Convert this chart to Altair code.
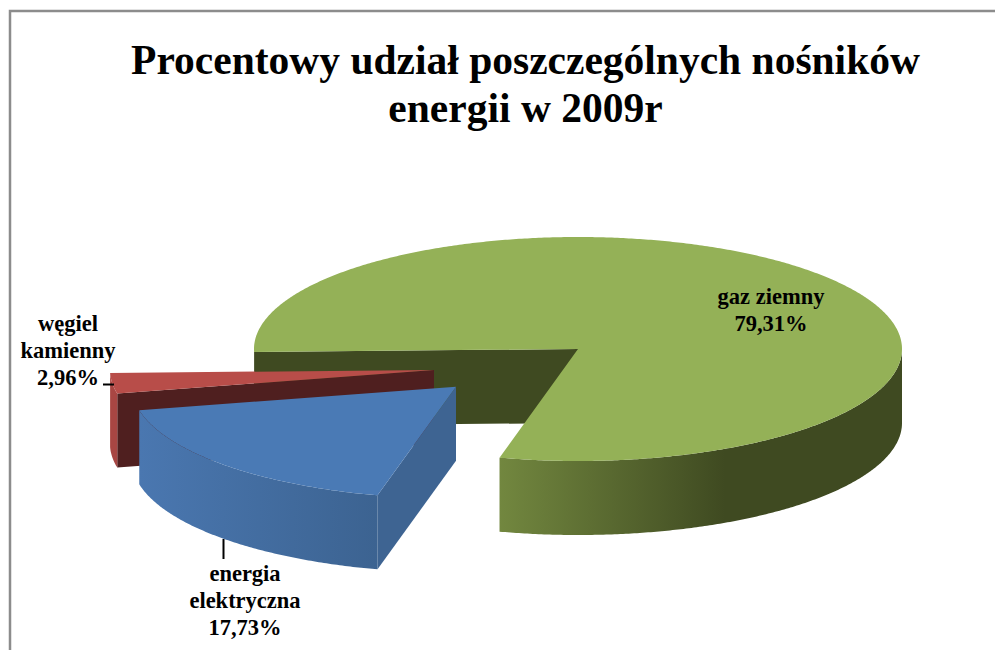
import math
import altair as alt
import pandas as pd

# ---- chart values
categories = ["gaz ziemny", "energia elektryczna", "węgiel kamienny"]
shares = [79.31, 17.73, 2.96]
label_texts = ["gaz ziemny\n79,31%", "energia\nelektryczna\n17,73%", "węgiel\nkamienny\n2,96%"]
title_lines = ["Procentowy udział poszczególnych nośników", "energii w 2009r"]

# ---- drawing geometry (the scales below are expressed in page pixels)
W, H = 987, 642
X0, Y0 = 8, 8
RX, RY, THICK = 324, 112, 74
START = 268.5
CENTRES = {"gaz ziemny": (578, 349), "energia elektryczna": (456, 386.7), "węgiel kamienny": (434, 370)}


def rim(c, a, drop=0):
    r = math.radians(a)
    return (c[0] + RX * math.sin(r), c[1] - RY * math.cos(r) + drop)


def arc(c, a0, a1, drop=0):
    n = max(2, int(abs(a1 - a0) * 2))
    return [rim(c, a0 + (a1 - a0) * i / n, drop) for i in range(n + 1)]


def top(c, a0, a1):
    return [c] + arc(c, a0, a1)


def outer(c, a0, a1):
    return arc(c, a0, a1) + arc(c, a1, a0, THICK)


def inner(c, a):
    p = rim(c, a)
    return [c, p, (p[0], p[1] + THICK), (c[0], c[1] + THICK)]


# slice angles follow from the shares, clockwise from START
green0, green1 = START, START + shares[0] * 3.6
blue0, blue1 = green1 - 360, green1 - 360 + shares[1] * 3.6
red0, red1 = blue1, blue1 + shares[2] * 3.6
G, B, R = (CENTRES[k] for k in categories)


def grad(c0, c1, mid=None):
    stops = [alt.GradientStop(offset=0, color=c0)]
    if mid is not None:
        stops.append(alt.GradientStop(offset=mid, color=c1))
    stops.append(alt.GradientStop(offset=1, color=c1))
    return alt.Gradient(gradient="linear", x1=0, x2=1, y1=0, y2=0, stops=stops)


pieces = [
    (inner(G, green0), "#3f4a21"),
    (outer(G, 450, green1), grad("#72873f", "#3f4a21", 0.56)),
    (top(G, green0, green1), "#94b157"),
    (inner(R, red0), "#4f1f1f"),
    (outer(R, red0, red1), "#a84643"),
    (top(R, red0, red1), "#b84d49"),
    (inner(B, blue0), "#3e6492"),
    (outer(B, blue0, blue1), grad("#4a77b0", "#3c6391")),
    (top(B, blue0, blue1), "#4a7ab5"),
]

xe = alt.X("x:Q", scale=alt.Scale(domain=[X0, X0 + W], nice=False, zero=False), axis=None)
ye = alt.Y("y:Q", scale=alt.Scale(domain=[Y0 + H, Y0], nice=False, zero=False), axis=None)

layers = []

border = pd.DataFrame({"x": [10, 10, X0 + W], "y": [Y0 + H, 11, 11], "i": [0, 1, 2]})
layers.append(alt.Chart(border).mark_line(color="#8c8c8c", strokeWidth=2.5).encode(x=xe, y=ye, order="i:Q"))

for pts, fill in pieces:
    df = pd.DataFrame({"x": [p[0] for p in pts], "y": [p[1] for p in pts], "i": range(len(pts))})
    layers.append(
        alt.Chart(df).mark_line(fill=fill, stroke="transparent", strokeWidth=0).encode(x=xe, y=ye, order="i:Q")
    )

leaders = pd.DataFrame({"x": [103, 114, 223.5, 223.5], "y": [384.5, 384.5, 539, 559], "g": ["a", "a", "b", "b"]})
layers.append(alt.Chart(leaders).mark_line(color="black", strokeWidth=2).encode(x=xe, y=ye, detail="g:N"))

labels = pd.DataFrame({"t": label_texts, "x": [771, 245, 68], "y": [304, 581, 331]})
layers.append(
    alt.Chart(labels)
    .mark_text(font="Liberation Serif", fontWeight="bold", fontSize=22.5, lineHeight=27, lineBreak="\n",
               align="center", baseline="alphabetic", color="black")
    .encode(x=xe, y=ye, text="t:N")
)

chart = (
    alt.layer(*layers)
    .properties(
        width=W, height=H, background="white", padding=0,
        autosize=alt.AutoSizeParams(type="none", contains="padding"),
        title=alt.TitleParams(text=title_lines, font="Liberation Serif", fontWeight="bold", fontSize=41.5,
                              lineHeight=48, color="black", anchor="middle", dx=24, dy=161, baseline="alphabetic"),
    )
    .configure_view(stroke=None)
)
chart.save("out.html", embed_options={"renderer": "svg", "actions": False})
